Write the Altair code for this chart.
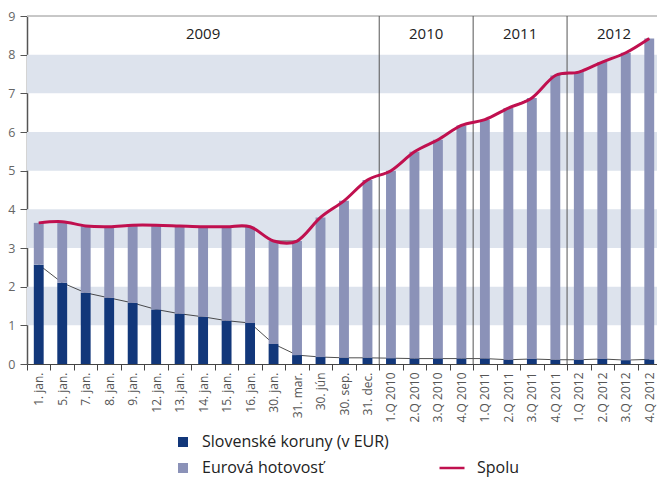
import altair as alt
import pandas as pd

categories = ["1. jan.", "5. jan.", "7. jan.", "8. jan.", "9. jan.", "12. jan.", "13. jan.",
              "14. jan.", "15. jan.", "16. jan.", "30. jan.", "31. mar.", "30. jún", "30. sep.",
              "31. dec.", "1.Q 2010", "2.Q 2010", "3.Q 2010", "4.Q 2010", "1.Q 2011", "2.Q 2011",
              "3.Q 2011", "4.Q 2011", "1.Q 2012", "2.Q 2012", "3.Q 2012", "4.Q 2012"]
sk_values = [2.57, 2.10, 1.84, 1.71, 1.58, 1.41, 1.30, 1.22, 1.12, 1.06, 0.52, 0.23, 0.18, 0.16,
             0.16, 0.15, 0.14, 0.14, 0.14, 0.14, 0.11, 0.13, 0.11, 0.11, 0.13, 0.10, 0.12]
total_values = [3.65, 3.68, 3.57, 3.55, 3.59, 3.59, 3.57, 3.55, 3.55, 3.55, 3.18, 3.18, 3.79, 4.22,
                4.76, 5.00, 5.49, 5.80, 6.17, 6.32, 6.62, 6.88, 7.46, 7.55, 7.81, 8.05, 8.42]
series_names = ["Slovenské koruny (v EUR)", "Eurová hotovosť"]
series_colors = ["#12377a", "#8b92b8"]
line_name = "Spolu"
line_color = "#c0104f"
band_lows = [1, 3, 5, 7]
band_highs = [2, 4, 6, 8]
y_ticks = [0, 1, 2, 3, 4, 5, 6, 7, 8, 9]
years = ["2009", "2010", "2011", "2012"]
year_anchor = ["14. jan.", "3.Q 2010", "3.Q 2011", "3.Q 2012"]
separators = ["1.Q 2010", "1.Q 2011", "1.Q 2012"]

FONT = "Open Sans"
W, H = 630, 348
XR = 634  # x range extends slightly past the visible plot (cropped at right like the original)

rows = []
for c, s, t in zip(categories, sk_values, total_values):
    rows.append({"cat": c, "series": series_names[0], "value": s, "ord": 0})
    rows.append({"cat": c, "series": series_names[1], "value": round(t - s, 3), "ord": 1})
bars_df = pd.DataFrame(rows)
line_df = pd.DataFrame({"cat": categories, "sk": sk_values, "total": total_values,
                        "s": [line_name] * len(categories)})
bands_df = pd.DataFrame({"lo": band_lows, "hi": band_highs})
years_df = pd.DataFrame({"year": years, "cat": year_anchor})
sep_df = pd.DataFrame({"cat": separators})

xscale = alt.Scale(paddingInner=0, paddingOuter=0, range=[0, XR])
x_axis = alt.Axis(title=None, labelAngle=-90, tickBand="extent", labelFont=FONT,
                  labelFontSize=12, labelColor="#555", labelPadding=2, tickSize=6,
                  tickColor="#444", domainColor="#444")
yscale = alt.Scale(domain=[0, 9], nice=False)
y_axis = alt.Axis(title=None, values=y_ticks, grid=False, labelFont=FONT, labelOverlap=False,
                  labelFontSize=12.5, labelColor="#666", labelPadding=5, tickSize=7,
                  tickColor="#555", domainColor="#555", domainWidth=1.5)


def X(**kw):
    return alt.X("cat:N", sort=categories, scale=xscale, axis=x_axis, **kw)


def Y(field, **kw):
    return alt.Y(field, scale=yscale, axis=y_axis, **kw)


bands = alt.Chart(bands_df).mark_rect(color="#dde3ed").encode(
    x=alt.value(0), x2=alt.value(XR), y=Y("lo:Q"), y2="hi:Q")

top_border = alt.Chart(bands_df).mark_rule(color="#c4c4c4", strokeWidth=1).encode(
    x=alt.value(0), x2=alt.value(XR), y=alt.value(0))

bars = alt.Chart(bars_df).mark_bar(width={"band": 0.42}).encode(
    x=X(),
    y=Y("value:Q", stack="zero"),
    fill=alt.Fill("series:N", scale=alt.Scale(domain=series_names, range=series_colors),
                  legend=alt.Legend(orient="none", legendX=148, legendY=418, title=None,
                                    symbolType="square", symbolSize=100, symbolStrokeWidth=0,
                                    labelFont=FONT, labelFontSize=16, labelColor="#222",
                                    labelOffset=11, rowPadding=10, labelLimit=400)),
    order=alt.Order("ord:Q"))

sk_line = alt.Chart(line_df).mark_line(color="#222", strokeWidth=0.8).encode(
    x=X(), y=Y("sk:Q"))
tot_line = alt.Chart(line_df).mark_line(color="#444", strokeWidth=1).encode(
    x=X(), y=Y("total:Q"))
red_line = alt.Chart(line_df).mark_line(strokeWidth=3, interpolate="cardinal").encode(
    x=X(), y=Y("total:Q"),
    stroke=alt.Stroke("s:N", scale=alt.Scale(domain=[line_name], range=[line_color]),
                      legend=alt.Legend(orient="none", legendX=411, legendY=438, title=None,
                                        symbolType="stroke", symbolSize=625,
                                        symbolStrokeWidth=2.5, labelFont=FONT,
                                        labelFontSize=16, labelColor="#222", labelOffset=11)))

seps = alt.Chart(sep_df).mark_rule(color="#555", strokeWidth=1).encode(
    x=X(bandPosition=0), y=alt.value(0), y2=alt.value(H))

year_first = alt.Chart(years_df.iloc[:1]).mark_text(font=FONT, fontSize=15, color="#222").encode(
    x=X(bandPosition=0.5), y=alt.value(18), text="year:N")
year_rest = alt.Chart(years_df.iloc[1:]).mark_text(font=FONT, fontSize=15, color="#222").encode(
    x=X(bandPosition=0), y=alt.value(18), text="year:N")

chart = alt.layer(bands, top_border, sk_line, bars, seps, tot_line, red_line,
                  year_first, year_rest).properties(
    width=W, height=H, autosize="none",
    padding={"left": 19, "top": 8, "right": 0, "bottom": 120}
).configure_view(stroke=None)

chart.save("out.html", embed_options={"renderer": "svg", "actions": False})
